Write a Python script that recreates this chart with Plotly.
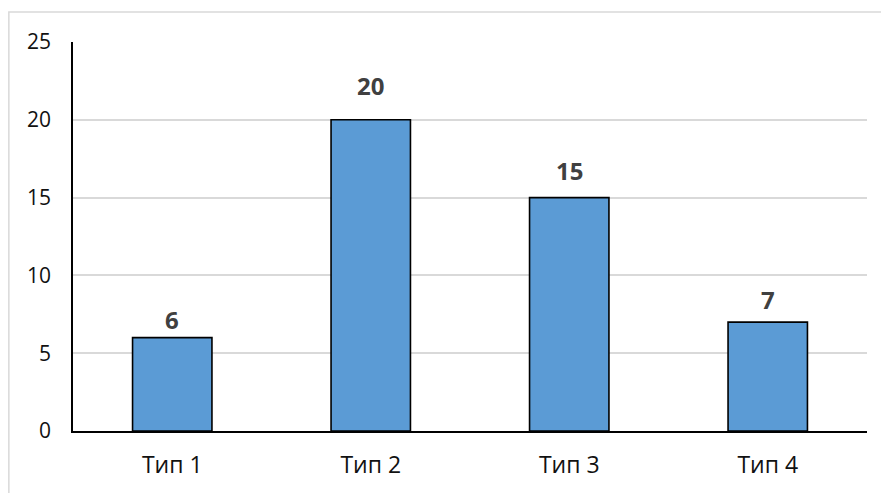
import plotly.graph_objects as go

# Categories and counts
categories = ["Тип 1", "Тип 2", "Тип 3", "Тип 4"]
counts = [6, 20, 15, 7]

# Axis ticks
y_ticks = [0, 5, 10, 15, 20, 25]

# Vertical lift (px) of each value label above its bar
label_lift_px = [16, 32, 25, 20]

BAR_FILL = "#5B9BD5"
GRID = "#D9D9D9"
FONT = "Open Sans, Calibri, sans-serif"

fig = go.Figure()
fig.add_trace(go.Bar(
    x=categories,
    y=counts,
    width=0.4,
    marker=dict(color=BAR_FILL, line=dict(color="#000000", width=1.6)),
    hoverinfo="x+y",
))

# Value labels above the bars
for cat, val, lift in zip(categories, counts, label_lift_px):
    fig.add_annotation(
        x=cat, y=val, text=f"<b>{val}</b>", showarrow=False,
        yanchor="bottom", yshift=lift - 16,
        font=dict(family=FONT, size=24, color="#404040"),
    )

# Chart-area frame
fig.add_shape(
    type="rect", xref="paper", yref="paper",
    x0=-0.0808, x1=1.1, y0=-0.3, y1=1.0771,
    line=dict(color=GRID, width=1.5), fillcolor="rgba(0,0,0,0)", layer="below",
)

fig.update_layout(
    width=881, height=493,
    margin=dict(l=73, r=14, t=42, b=62),
    paper_bgcolor="white", plot_bgcolor="white",
    showlegend=False,
    font=dict(family=FONT, size=22, color="#111111"),
    xaxis=dict(
        showline=True, linecolor="#000000", linewidth=1.6,
        showgrid=False, ticks="", ticklabelstandoff=13,
        tickfont=dict(family=FONT, size=23, color="#111111"),
    ),
    yaxis=dict(
        range=[0, 25], tickvals=y_ticks,
        showline=True, linecolor="#000000", linewidth=1.6,
        showgrid=True, gridcolor=GRID, gridwidth=1.5,
        zeroline=False, ticks="", ticklabelstandoff=16,
        tickfont=dict(family=FONT, size=21, color="#111111"),
    ),
)

fig.write_html("out.html")
